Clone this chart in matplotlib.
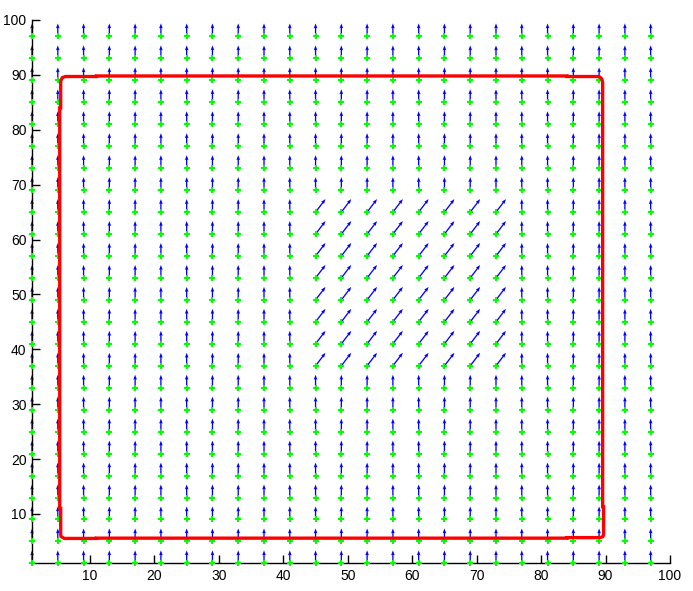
import numpy as np
import matplotlib
matplotlib.use('Agg')
import matplotlib.pyplot as plt

plt.rcParams['font.family'] = ['Liberation Sans', 'DejaVu Sans']

# 网格采样点 (每隔4个像素)
grid_x = [1, 5, 9, 13, 17, 21, 25, 29, 33, 37, 41, 45, 49, 53, 57, 61, 65, 69, 73, 77, 81, 85, 89, 93, 97]
grid_y = [1, 5, 9, 13, 17, 21, 25, 29, 33, 37, 41, 45, 49, 53, 57, 61, 65, 69, 73, 77, 81, 85, 89, 93, 97]

# 场方向: 背景处向上, 中间方块区域斜向右上
base_u = 0.0
base_v = 1.0
region_x = [45, 73]
region_y = [37, 65]
region_u = 0.65
region_v = 1.0

# 蛇形轮廓 (红线)
contour_x = [5.3, 5.3, 5.45, 5.45, 5.7, 6.2, 11.0, 11.0, 84.0, 84.0, 89.0, 89.4, 89.55, 89.55, 89.7, 89.7,
             89.6, 89.2, 84.0, 84.0, 11.0, 11.0, 6.0, 5.5, 5.45, 5.45, 5.3]
contour_y = [11.0, 84.0, 84.0, 88.9, 89.5, 89.7, 89.7, 89.8, 89.8, 89.7, 89.7, 89.3, 88.6, 11.3, 11.3, 6.3,
             5.9, 5.7, 5.7, 5.6, 5.6, 5.55, 5.55, 5.9, 6.4, 11.0, 11.0]

xticks = [10, 20, 30, 40, 50, 60, 70, 80, 90, 100]
yticks = [10, 20, 30, 40, 50, 60, 70, 80, 90, 100]

X, Y = np.meshgrid(grid_x, grid_y)
U = np.full(X.shape, base_u)
V = np.full(X.shape, base_v)
inside = (X >= region_x[0]) & (X <= region_x[1]) & (Y >= region_y[0]) & (Y <= region_y[1])
U[inside] = region_u
V[inside] = region_v

fig = plt.figure(figsize=(6.93, 5.91), dpi=100)
ax = fig.add_axes([0.0462, 0.0467, 0.9206, 0.9195])

q = ax.quiver(X, Y, U, V, color='#0000ff', angles='xy', scale_units='xy', scale=1 / 2.37,
              units='dots', width=1.3, headwidth=2.8, headlength=3.8, headaxislength=3.4,
              pivot='tail', zorder=1)
q.set_clip_on(False)

ax.plot(X.ravel(), Y.ravel(), linestyle='none', marker='P', color='#00ff00', markersize=4.5,
        markeredgewidth=0, zorder=2, clip_on=False)

ax.plot(contour_x, contour_y, color='#ff0000', linewidth=2.4, zorder=3,
        solid_joinstyle='miter')

ax.set_xlim(1, 100)
ax.set_ylim(1, 100)
ax.set_xticks(xticks)
ax.set_yticks(yticks)
ax.tick_params(direction='in', length=6, width=1, labelsize=10, pad=4, colors='black')
for side in ['top', 'right']:
    ax.spines[side].set_visible(False)
for side in ['left', 'bottom']:
    ax.spines[side].set_linewidth(1)
    ax.spines[side].set_zorder(1.5)

fig.savefig('out.png', dpi=100)
